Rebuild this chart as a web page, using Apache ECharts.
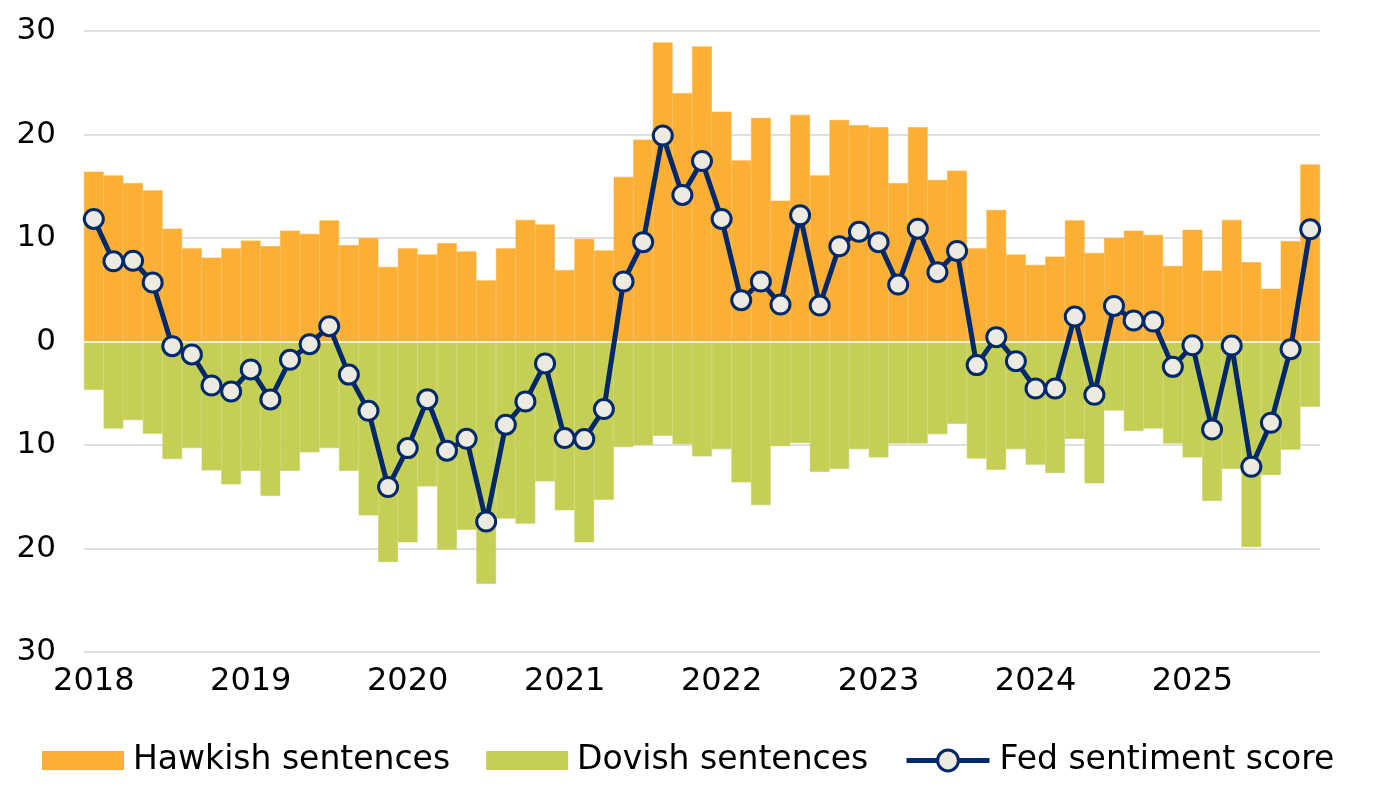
<!DOCTYPE html>
<html>
<head>
<meta charset="utf-8">
<script src="https://cdn.jsdelivr.net/npm/echarts@6/dist/echarts.min.js"></script>
<style>
  html, body { margin: 0; padding: 0; background: #fff; }
  #chart { width: 1380px; height: 800px; }
</style>
</head>
<body>
<div id="chart"></div>
<script>
// FOMC meetings, 8 per year (2025 up to October)
const meetings = [
  '2018-01', '2018-03', '2018-05', '2018-06', '2018-08', '2018-09', '2018-11', '2018-12',
  '2019-01', '2019-03', '2019-05', '2019-06', '2019-07', '2019-09', '2019-10', '2019-12',
  '2020-01', '2020-03', '2020-04', '2020-06', '2020-07', '2020-09', '2020-11', '2020-12',
  '2021-01', '2021-03', '2021-04', '2021-06', '2021-07', '2021-09', '2021-11', '2021-12',
  '2022-01', '2022-03', '2022-05', '2022-06', '2022-07', '2022-09', '2022-11', '2022-12',
  '2023-02', '2023-03', '2023-05', '2023-06', '2023-07', '2023-09', '2023-11', '2023-12',
  '2024-01', '2024-03', '2024-05', '2024-06', '2024-07', '2024-09', '2024-11', '2024-12',
  '2025-01', '2025-03', '2025-05', '2025-06', '2025-07', '2025-09', '2025-10'
];

const hawkish = [
  16.4, 16.05, 15.3, 14.6, 10.9, 9.0, 8.1, 9.0,
  9.75, 9.2, 10.7, 10.4, 11.7, 9.3, 10.0, 7.2,
  9.0, 8.4, 9.5, 8.7, 5.9, 9.0, 11.75, 11.3,
  6.9, 9.9, 8.8, 15.9, 19.5, 28.9, 24.0, 28.5,
  22.2, 17.5, 21.6, 13.6, 21.9, 16.05, 21.4, 20.9,
  20.7, 15.3, 20.7, 15.6, 16.5, 9.0, 12.7, 8.4,
  7.4, 8.2, 11.7, 8.55, 10.0, 10.7, 10.3, 7.3,
  10.8, 6.85, 11.75, 7.65, 5.1, 9.7, 17.1
];

const dovish = [
  -4.67, -8.4, -7.6, -8.9, -11.35, -10.3, -12.45, -13.8,
  -12.5, -14.9, -12.5, -10.7, -10.3, -12.5, -16.8, -21.3,
  -19.4, -14.0, -20.1, -18.2, -23.4, -17.1, -17.6, -13.5,
  -16.3, -19.4, -15.3, -10.2, -10.0, -9.1, -9.9, -11.1,
  -10.4, -13.6, -15.8, -10.1, -9.8, -12.6, -12.3, -10.4,
  -11.2, -9.85, -9.85, -8.95, -7.95, -11.3, -12.4, -10.4,
  -11.9, -12.7, -9.4, -13.7, -6.66, -8.65, -8.4, -9.85,
  -11.2, -15.4, -12.3, -19.85, -12.9, -10.45, -6.3
];

const score = [
  11.84, 7.75, 7.8, 5.7, -0.45, -1.25, -4.25, -4.83,
  -2.7, -5.6, -1.77, -0.26, 1.48, -3.2, -6.7, -14.06,
  -10.3, -5.57, -10.55, -9.4, -17.4, -8.04, -5.8, -2.12,
  -9.33, -9.43, -6.53, 5.8, 9.6, 19.9, 14.16, 17.44,
  11.84, 3.99, 5.8, 3.57, 12.2, 3.47, 9.2, 10.6,
  9.6, 5.5, 10.9, 6.7, 8.75, -2.28, 0.42, -1.9,
  -4.54, -4.54, 2.41, -5.15, 3.44, 2.03, 1.93, -2.45,
  -0.36, -8.5, -0.39, -12.1, -7.85, -0.74, 10.84
];

const FONT = '"DejaVu Sans", sans-serif';
const NAVY = '#00296B';
const ORANGE = '#FBAF34';
const GREEN = '#C5CF55';
const legendText = { fontFamily: FONT, fontSize: 33, color: '#000', padding: [0, 0, 0, 5] };

const chart = echarts.init(document.getElementById('chart'));
chart.setOption({
  animation: false,
  grid: { left: 84, right: 60, top: 31, bottom: 148 },
  legend: [
    {
      left: 37,
      top: 739,
      itemWidth: 80,
      itemHeight: 17,
      itemGap: 36,
      textStyle: legendText,
      data: [
        { name: 'Hawkish sentences', icon: 'rect' },
        { name: 'Dovish sentences', icon: 'rect' }
      ]
    },
    {
      left: 899,
      top: 739,
      itemWidth: 83,
      itemHeight: 26,
      textStyle: legendText,
      lineStyle: { width: 5, color: NAVY },
      itemStyle: { color: '#ECEAE1', borderColor: NAVY, borderWidth: 3 },
      data: [{ name: 'Fed sentiment score' }]
    }
  ],
  xAxis: {
    type: 'category',
    data: meetings,
    boundaryGap: true,
    axisLine: { show: false },
    axisTick: { show: false },
    axisLabel: {
      interval: (i) => i % 8 === 0,
      formatter: (v) => v.slice(0, 4),
      fontFamily: FONT,
      fontSize: 32,
      color: '#000',
      margin: 14
    }
  },
  yAxis: {
    type: 'value',
    min: -30,
    max: 30,
    interval: 10,
    axisLine: { show: false },
    axisTick: { show: false },
    axisLabel: {
      formatter: (v) => String(Math.abs(v)),
      fontFamily: FONT,
      fontSize: 31,
      color: '#000',
      margin: 28
    },
    splitLine: { lineStyle: { color: '#D5D5D5', width: 1.5 } }
  },
  series: [
    {
      name: 'Hawkish sentences',
      type: 'bar',
      stack: 'sent',
      barCategoryGap: '0%',
      data: hawkish,
      itemStyle: { color: ORANGE, borderColor: ORANGE, borderWidth: 0.6 },
      markLine: {
        silent: true,
        symbol: 'none',
        label: { show: false },
        lineStyle: { color: '#ffffff', width: 1.5, type: 'solid' },
        data: [{ yAxis: 0 }]
      }
    },
    {
      name: 'Dovish sentences',
      type: 'bar',
      stack: 'sent',
      barCategoryGap: '0%',
      data: dovish,
      itemStyle: { color: GREEN, borderColor: GREEN, borderWidth: 0.6 }
    },
    {
      name: 'Fed sentiment score',
      type: 'line',
      z: 5,
      data: score,
      symbol: 'circle',
      symbolSize: 19,
      showSymbol: true,
      showAllSymbol: true,
      lineStyle: { color: NAVY, width: 5 },
      itemStyle: { color: '#ECEAE1', borderColor: NAVY, borderWidth: 3 }
    }
  ]
});
</script>
</body>
</html>
